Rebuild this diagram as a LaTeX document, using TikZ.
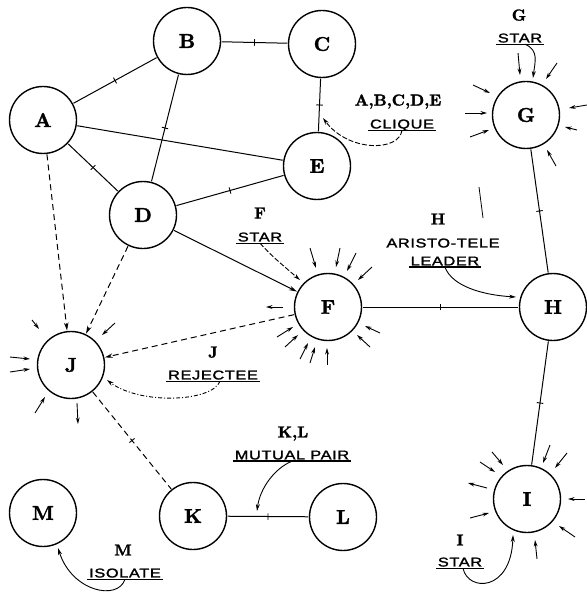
\documentclass[tikz,border=0pt]{standalone}
\usepackage{fontspec}
\usetikzlibrary{arrows.meta,calc}
\newfontfamily\labfont[FakeStretch=1.28,LetterSpace=5,FakeBold=1.8]{Liberation Sans}
\newfontfamily\letfont[FakeBold=1.8]{lmroman10-bold.otf}
\newcommand\tickmk{node[tickm]{\rule{0.9bp}{6.5bp}}}
\newcommand\sarr[5]{\draw[stararr] ([shift={(#2,#3)}]#1.center) -- ([shift={(#4,#5)}]#1.center);}
\begin{document}
\begin{tikzpicture}[x=1bp,y=-1bp,
  pers/.style={circle,draw,line width=1.4bp,minimum size=67bp,inner sep=0pt,outer sep=1.2bp,
    font=\fontsize{20}{20}\letfont},
  bl/.style={font=\fontsize{16}{16}\letfont,inner sep=0pt,text depth=0pt},
  sl/.style={font=\fontsize{12.8}{13}\labfont,inner sep=1.6bp,text depth=0pt},
  ul/.style={line width=1.4bp},
  con/.style={line width=1bp},
  arr/.style={-{Stealth[length=8bp,width=4.5bp]}},
  dsh/.style={dash pattern=on 6bp off 4bp},
  tickm/.style={pos=0.5,sloped,allow upside down,inner sep=0pt},
  stararr/.style={line width=0.9bp,-{Stealth[length=6.5bp,width=3.8bp]}},
  note/.style={line width=0.9bp,-{Stealth[length=7bp,width=4bp]}},
  dashdot/.style={dash pattern=on 4bp off 2bp on 1bp off 2bp}
]
\useasboundingbox (0,0) rectangle (587,594);

% persons
\node[pers] (A) at (43,120) {A};
\node[pers] (B) at (187,41) {B};
\node[pers] (C) at (322,44) {C};
\node[pers] (D) at (143,215) {D};
\node[pers] (E) at (317,166) {E};
\node[pers] (F) at (328,307) {F};
\node[pers] (G) at (526,115) {G};
\node[pers] (H) at (553,307) {H};
\node[pers] (I) at (527,499) {I};
\node[pers] (J) at (71,365) {J};
\node[pers] (K) at (193,516) {K};
\node[pers] (L) at (343,517) {L};
\node[pers] (M) at (43,513) {M};

% labels
\node[bl] (gl) at (519,15) {G};
\node[sl] (gs) at (520,38) {STAR};
\node[bl] (cl) at (398,100) {A,B,C,D,E};
\node[sl] (cs) at (402,124) {CLIQUE};
\node[bl] (fl) at (260,213) {F};
\node[sl] (fs) at (260,237) {STAR};
\node[bl] (hl) at (438,219) {H};
\node[sl] (ha) at (443,243) {ARISTO-TELE};
\node[sl] (hs) at (445,261) {LEADER};
\node[bl] (jl) at (213,352) {J};
\node[sl] (js) at (213,375) {REJECTEE};
\node[bl] (kl) at (293,432) {K,L};
\node[sl] (ks) at (292,455) {MUTUAL PAIR};
\node[bl] (ml) at (123,550) {M};
\node[sl] (ms) at (125,573) {ISOLATE};
\node[bl] (il) at (460,540) {I};
\node[sl] (is) at (460,562) {STAR};
\foreach \n in {gs,cs,fs,hs,js,ks,ms,is}
  \draw[ul] (\n.south west) -- (\n.south east);

% relations
\draw[con] (A) -- (B) \tickmk;
\draw[con] (B) -- (C) \tickmk;
\draw[con] (A) -- (E);
\draw[con] (A) -- (D) \tickmk;
\draw[con] (B) -- (D) \tickmk;
\draw[con] (C) -- (E) \tickmk;
\draw[con] (D) -- (E) \tickmk;
\draw[con,arr] (D) -- (F);
\draw[con] (F) -- (H) \tickmk;
\draw[con] (G) -- (H) \tickmk;
\draw[con] (H) -- (I) \tickmk;
\draw[con] (K) -- (L) \tickmk;
\draw[con,dsh,arr] (A) -- (J);
\draw[con,dsh,arr] (D) -- (J);
\draw[con,dsh,arr] (F) -- (J);
\draw[con,dsh] (J) -- (K) \tickmk;

% stray mark
\coordinate (s1) at (479,187);
\coordinate (s2) at (483,218);
\draw[line width=0.8bp] (s1) -- (s2);

% annotation arrows
\coordinate (cliqueTip) at (323,118);
\draw[note,dash pattern=on 5bp off 2bp] (cs.south) .. controls (399,152) and (348,152) .. (cliqueTip);
\draw[note] ([xshift=5bp]gs.south) .. controls (539,50) and (535,62) .. ([shift={(7,-37)}]G.center);
\draw[note,dash pattern=on 5bp off 2bp] (fs.south) .. controls (272,256) .. ([shift={(-28,-27)}]F.center);
\draw[note] (hs.south) .. controls (452,286) and (482,295) .. ([shift={(-37,-10)}]H.center);
\draw[note,dashdot] ([xshift=7bp]js.south) .. controls (212,402) and (140,405) .. ([shift={(36,15)}]J.center);
\coordinate (pairTip) at (257,511);
\draw[note] (ks.south) .. controls (275,468) and (260,488) .. (pairTip);
\draw[note] (ms.south) .. controls (118,601) and (72,592) .. ([shift={(15,35)}]M.center);
\draw[note] ([xshift=3bp]is.south) .. controls (468,592) and (511,592) .. ([shift={(-14,36)}]I.center);

% star arrows around G
\sarr{G}{-8}{-62}{-6}{-40}
\sarr{G}{31}{-52}{20}{-36}
\sarr{G}{-53}{-30}{-36}{-22}
\sarr{G}{-61}{-2}{-39}{-2}
\sarr{G}{-56}{22}{-37}{15}
\sarr{G}{61}{-10}{43}{-7}
\sarr{G}{51}{15}{39}{12}
\sarr{G}{30}{51}{21}{35}
% around F
\sarr{F}{-18}{-59}{-12}{-39}
\sarr{F}{12}{-59}{8}{-40}
\sarr{F}{28}{-54}{19}{-36}
\sarr{F}{44}{-40}{30}{-27}
\sarr{F}{-45}{0}{-62}{0}
\sarr{F}{-51}{30}{-35}{20}
\sarr{F}{-43}{40}{-30}{28}
\sarr{F}{-28}{52}{-20}{36}
\sarr{F}{-18}{56}{-13}{40}
\sarr{F}{-1}{58}{-1}{41}
\sarr{F}{42}{40}{29}{28}
\sarr{F}{52}{26}{37}{19}
% around J
\sarr{J}{-39}{-45}{-32}{-36}
\sarr{J}{44}{-42}{31}{-30}
\sarr{J}{-61}{-8}{-41}{-6}
\sarr{J}{-61}{7}{-41}{4}
\sarr{J}{-36}{48}{-26}{32}
\sarr{J}{6}{38}{7}{59}
% around I
\sarr{I}{-35}{-47}{-24}{-34}
\sarr{I}{-47}{-37}{-32}{-27}
\sarr{I}{-40}{-11}{-59}{-16}
\sarr{I}{23}{-54}{16}{-36}
\sarr{I}{40}{-46}{28}{-31}
\sarr{I}{58}{0}{41}{0}
\sarr{I}{48}{38}{32}{27}
\sarr{I}{10}{60}{8}{41}
\sarr{I}{-57}{19}{-38}{14}
\end{tikzpicture}
\end{document}
